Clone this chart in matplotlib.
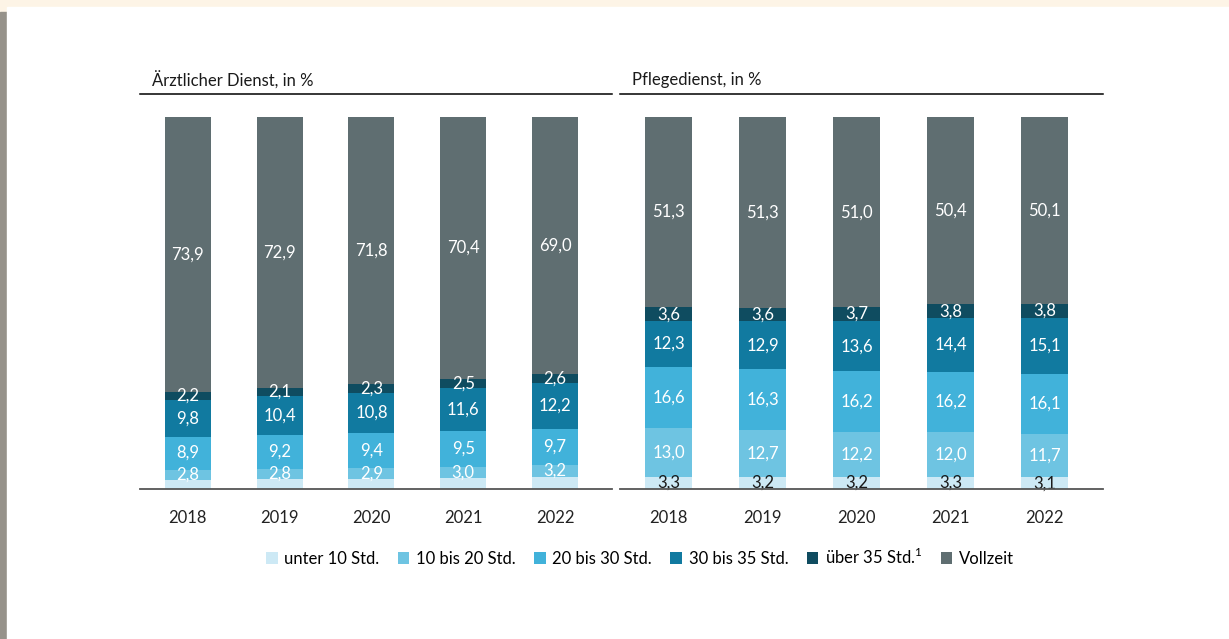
import matplotlib
matplotlib.use("Agg")
import matplotlib.pyplot as plt
from matplotlib.patches import Rectangle, Patch

plt.rcParams['font.family'] = ['Lato', 'DejaVu Sans']
plt.rcParams['mathtext.fontset'] = 'custom'
plt.rcParams['mathtext.rm'] = 'Lato'

years = ["2018", "2019", "2020", "2021", "2022"]
series = ["unter 10 Std.", "10 bis 20 Std.", "20 bis 30 Std.", "30 bis 35 Std.",
          "über 35 Std.$^{1}$", "Vollzeit"]
colors = ["#cde9f5", "#6ec4e2", "#41b2da", "#117aa0", "#0f4c60", "#5f6e71"]

# Ärztlicher Dienst (unter 10 Std. not labelled in the source, remainder to 100)
aerzte = {
    "unter 10 Std.": [2.4, 2.6, 2.8, 3.0, 3.3],
    "10 bis 20 Std.": [2.8, 2.8, 2.9, 3.0, 3.2],
    "20 bis 30 Std.": [8.9, 9.2, 9.4, 9.5, 9.7],
    "30 bis 35 Std.": [9.8, 10.4, 10.8, 11.6, 12.2],
    "über 35 Std.$^{1}$": [2.2, 2.1, 2.3, 2.5, 2.6],
    "Vollzeit": [73.9, 72.9, 71.8, 70.4, 69.0],
}
aerzte_labelled = [False, True, True, True, True, True]

pflege = {
    "unter 10 Std.": [3.3, 3.2, 3.2, 3.3, 3.1],
    "10 bis 20 Std.": [13.0, 12.7, 12.2, 12.0, 11.7],
    "20 bis 30 Std.": [16.6, 16.3, 16.2, 16.2, 16.1],
    "30 bis 35 Std.": [12.3, 12.9, 13.6, 14.4, 15.1],
    "über 35 Std.$^{1}$": [3.6, 3.6, 3.7, 3.8, 3.8],
    "Vollzeit": [51.3, 51.3, 51.0, 50.4, 50.1],
}
pflege_labelled = [True, True, True, True, True, True]

W, H = 1229, 639
fig = plt.figure(figsize=(W / 100, H / 100), dpi=100, facecolor="#fdf4e6")
fig.patches.append(Rectangle((0, 0), 7 / W, 1 - 12 / H, transform=fig.transFigure,
                             color="#96928a", zorder=-10))
fig.patches.append(Rectangle((7 / W, 0), 1, 1 - 7 / H, transform=fig.transFigure,
                             color="white", zorder=-10))


def fx(px):
    return px / W


def fy(py):
    return 1 - py / H


def draw_panel(left, right, data, labelled, title):
    ax = fig.add_axes([fx(left), fy(489), fx(right - left), fy(117) - fy(489)])
    ax.set_facecolor("none")
    x = range(len(years))
    bottom = [0.0] * len(years)
    for i, s in enumerate(series):
        vals = data[s]
        ax.bar(x, vals, 0.5, bottom=bottom, color=colors[i], clip_on=False, zorder=2)
        if labelled[i]:
            tc = "#1a1a1a" if i == 0 else "white"
            for j, v in enumerate(vals):
                ax.text(j, bottom[j] + v / 2, f"{v:.1f}".replace(".", ","),
                        ha="center", va="center", fontsize=12, color=tc, zorder=3)
        bottom = [b + v for b, v in zip(bottom, vals)]
    ax.set_xlim(-0.52, 4.62)
    ax.set_ylim(0, 100)
    for sp in ["top", "right", "left"]:
        ax.spines[sp].set_visible(False)
    ax.spines["bottom"].set_color("#555555")
    ax.spines["bottom"].set_linewidth(1.3)
    ax.spines["bottom"].set_zorder(4)
    ax.set_yticks([])
    ax.set_xticks(list(x))
    ax.set_xticklabels(years, fontsize=12, color="#222222")
    ax.tick_params(axis="x", length=0, pad=15)
    # title with rule below
    fig.text(fx(left + 12), fy(80), title, fontsize=12, color="#1a1a1a",
             ha="left", va="center")
    fig.add_artist(plt.Line2D([fx(left), fx(right)], [fy(94), fy(94)],
                              color="black", linewidth=1.1))
    return ax


draw_panel(140, 612, aerzte, aerzte_labelled, "Ärztlicher Dienst, in %")
draw_panel(620, 1103, pflege, pflege_labelled, "Pflegedienst, in %")

handles = [Patch(facecolor=c, edgecolor="none") for c in colors]
fig.legend(handles, series, loc="center", bbox_to_anchor=(fx(640), fy(557)),
           ncol=6, frameon=False, fontsize=12, handlelength=0.7,
           handleheight=0.7, handletextpad=0.4, columnspacing=1.1)

fig.savefig("out.png", dpi=100, facecolor=fig.get_facecolor())
